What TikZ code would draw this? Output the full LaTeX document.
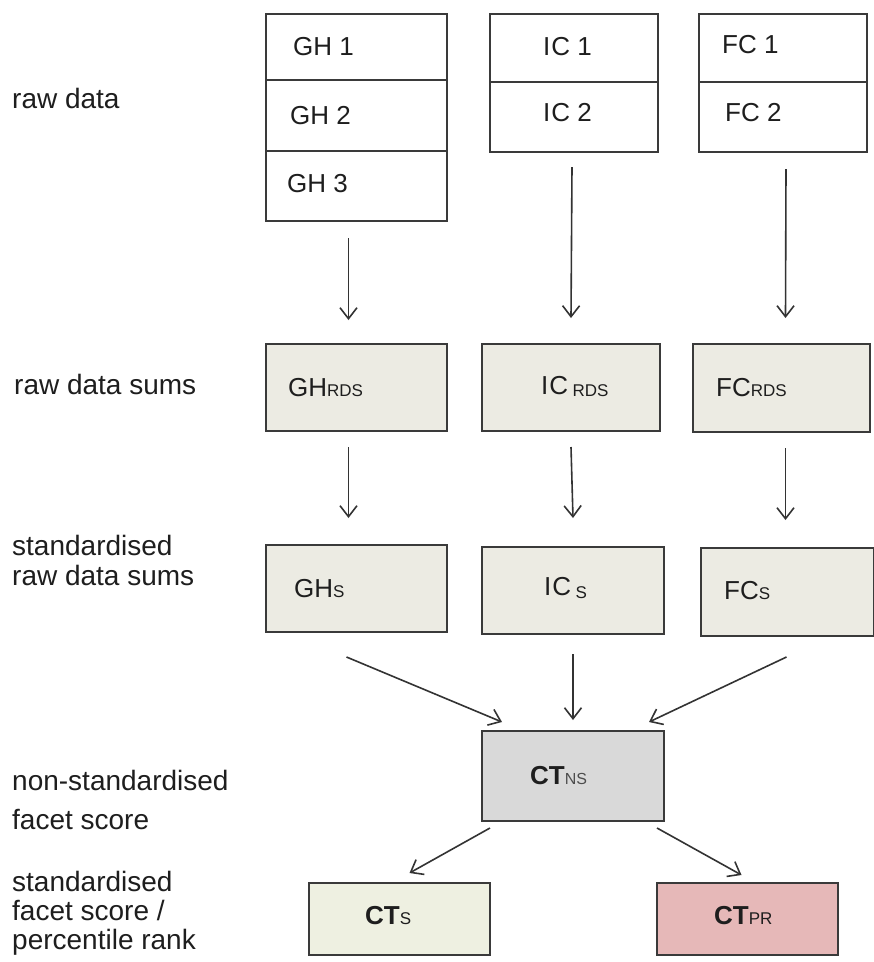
\documentclass[tikz,border=0pt]{standalone}
\usepackage{fontspec}
\setmainfont{Liberation Sans}
\usetikzlibrary{arrows.meta,calc}
\definecolor{boxline}{HTML}{3A3A3A}
\definecolor{arrline}{HTML}{333333}
\definecolor{sumfill}{HTML}{ECEBE3}
\definecolor{nsfill}{HTML}{D9D9D9}
\definecolor{ctsfill}{HTML}{EEF0E1}
\definecolor{prfill}{HTML}{E6B8B8}
\definecolor{labtext}{HTML}{1E1E1E}
\newcommand{\smallsub}[1]{{\fontsize{17}{17}\selectfont #1}}
\begin{document}
\begin{tikzpicture}[x=1pt,y=-1pt,
  cell/.style={draw=boxline, line width=2pt, fill=white, anchor=north west, inner sep=0pt},
  sumbox/.style={draw=boxline, line width=2pt, fill=sumfill, anchor=north west, inner sep=0pt},
  celltext/.style={anchor=west, inner sep=0pt, text=labtext, font=\fontsize{26}{30}\selectfont},
  rowlabel/.style={anchor=west, inner sep=0pt, align=left, text=labtext, font=\fontsize{28}{30}\selectfont},
  arr/.style={draw=arrline, line width=1.6pt, -{Straight Barb[length=11pt,width=17pt,line width=1.6pt]}}
]
\useasboundingbox (0,0) rectangle (874,962);
\fill[white] (0,0) rectangle (874,962);

% row labels
\node[rowlabel] (l1) at (12,98) {raw data};
\node[rowlabel] (l2) at (14,384) {raw data sums};
\node[rowlabel] (l3) at (12,560) {standardised\\raw data sums};
\node[rowlabel, font=\fontsize{28}{39}\selectfont] (l4) at (12,800) {non-standardised\\facet score};
\node[rowlabel, font=\fontsize{28}{29}\selectfont] (l5) at (12,913) {standardised\\facet score /\\percentile rank};

% raw data stacks
\node[cell, minimum width=181pt, minimum height=66pt] (gh1) at (265,13) {};
\node[cell, minimum width=181pt, minimum height=71pt] (gh2) at (265,79) {};
\node[cell, minimum width=181pt, minimum height=70pt] (gh3) at (265,150) {};
\node[celltext] (gh1t) at (293,47) {GH 1};
\node[celltext] (gh2t) at (290,116) {GH 2};
\node[celltext] (gh3t) at (287,184) {GH 3};

\node[cell, minimum width=168pt, minimum height=68pt] (ic1) at (489,13) {};
\node[cell, minimum width=168pt, minimum height=70pt] (ic2) at (489,81) {};
\node[celltext] (ic1t) at (543,47) {I\kern1pt C 1};
\node[celltext] (ic2t) at (543,113) {I\kern1pt C 2};

\node[cell, minimum width=168pt, minimum height=68pt] (fc1) at (698,13) {};
\node[cell, minimum width=168pt, minimum height=70pt] (fc2) at (698,81) {};
\node[celltext] (fc1t) at (722,45) {FC 1};
\node[celltext] (fc2t) at (725,113) {FC 2};

% raw data sums
\node[sumbox, minimum width=181pt, minimum height=87pt] (ghr) at (265,343) {};
\node[sumbox, minimum width=178pt, minimum height=87pt] (icr) at (481,343) {};
\node[sumbox, minimum width=177pt, minimum height=88pt] (fcr) at (692,343) {};
\node[celltext] (ghrt) at (288,388) {GH\smallsub{RDS}};
\node[celltext] (icrt) at (541,386) {I\kern1pt C\,\raisebox{-2pt}{\smallsub{RDS}}};
\node[celltext] (fcrt) at (716,388) {FC\smallsub{RDS}};

% standardised sums
\node[sumbox, minimum width=181pt, minimum height=87pt] (ghs) at (265,544) {};
\node[sumbox, minimum width=182pt, minimum height=87pt] (ics) at (481,546) {};
\node[sumbox, minimum width=173pt, minimum height=88pt] (fcs) at (700,547) {};
\node[celltext] (ghst) at (294,589) {GH\smallsub{S}};
\node[celltext] (icst) at (544,588) {I\kern1pt C\,\raisebox{-3pt}{\smallsub{S}}};
\node[celltext] (fcst) at (724,591) {FC\smallsub{S}};

% facet score
\node[draw=boxline, line width=2pt, fill=nsfill, anchor=north west, minimum width=182pt, minimum height=90pt] (ctns) at (481,730) {};
\node[celltext] (ctnst) at (530,776) {\textbf{CT}{\color{black!70}\fontsize{16}{16}\selectfont NS}};

\node[draw=boxline, line width=2pt, fill=ctsfill, anchor=north west, minimum width=181pt, minimum height=72pt] (cts) at (308,882) {};
\node[celltext] (ctst) at (365,916) {\textbf{CT}\smallsub{S}};
\node[draw=boxline, line width=2pt, fill=prfill, anchor=north west, minimum width=181pt, minimum height=72pt] (ctpr) at (656,882) {};
\node[celltext] (ctprt) at (714,916) {\textbf{CT}\smallsub{PR}};

% arrows raw -> sums
\draw[arr] ($(gh3.south)+(-8,16)$) -- ($(ghr.north)+(-8,-23)$);
\draw[arr] ($(ic2.south)+(-2,14)$) -- ($(icr.north)+(0,-25)$);
\draw[arr] ($(fc2.south)+(3,16)$) -- ($(fcr.north)+(4,-25)$);
% sums -> standardised
\draw[arr] ($(ghr.south)+(-8,15)$) -- ($(ghs.north)+(-8,-26)$);
\draw[arr] ($(icr.south)+(0,15)$) -- ($(ics.north)+(0,-28)$);
\draw[arr] ($(fcr.south)+(4,15)$) -- ($(fcs.north)+(-2,-27)$);
% standardised -> CT_NS
\draw[arr] ($(ghs.south)+(-10,24)$) -- ($(ctns.north west)+(21,-8)$);
\draw[arr] ($(ics.south)+(0,19)$) -- ($(ctns.north)+(0,-10)$);
\draw[arr] ($(fcs.south)+(-1,20)$) -- ($(ctns.north east)+(-16,-8)$);
% CT_NS -> bottom
\draw[arr] ($(ctns.south west)+(9,6)$) -- ($(cts.north)+(10,-9)$);
\draw[arr] ($(ctns.south east)+(-8,6)$) -- ($(ctpr.north)+(-6,-7)$);
\end{tikzpicture}
\end{document}
